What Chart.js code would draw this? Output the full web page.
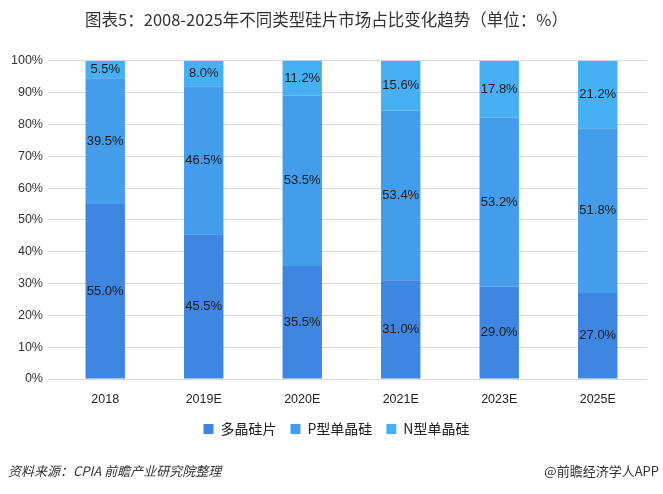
<!DOCTYPE html>
<html><head><meta charset="utf-8">
<script src="https://cdn.jsdelivr.net/npm/chart.js@4/dist/chart.umd.min.js"></script>
<style>
html,body{margin:0;padding:0;background:#fff;}
#wrap{position:relative;width:663px;height:494px;}
canvas{position:absolute;left:0;top:0;}
.src{position:absolute;left:8px;top:461px;font:italic 13px "Noto Sans CJK SC","Microsoft YaHei",sans-serif;color:#333;}
.app{position:absolute;right:4px;top:461px;font:13px "Noto Sans CJK SC",sans-serif;color:#333;}
</style></head><body>
<div id="wrap"><canvas id="c" width="663" height="494"></canvas>
<div class="src">资料来源：CPIA 前瞻产业研究院整理</div>
<div class="app">@前瞻经济学人APP</div></div>
<script>
const categories = ['2018','2019E','2020E','2021E','2023E','2025E'];
const seriesNames = ['多晶硅片','P型单晶硅','N型单晶硅'];
const polySi = [55.0,45.5,35.5,31.0,29.0,27.0];
const pMono = [39.5,46.5,53.5,53.4,53.2,51.8];
const nMono = [5.5,8.0,11.2,15.6,17.8,21.2];
const yTicks = [0,10,20,30,40,50,60,70,80,90,100];
const colors = ['#3E86DF','#439DEA','#47B0F3'];

const labelPlugin = {
  id:'segLabels',
  afterLayout(chart){
    const lg = chart.legend;
    if(lg){lg.left+=10;lg.right+=10;lg.top-=4;lg.bottom-=4;}
  },
  afterDatasetsDraw(chart){
    const ctx = chart.ctx;
    ctx.save();
    ctx.font = '13px "Liberation Sans", Arial, sans-serif';
    ctx.fillStyle = '#1a1a1a';
    ctx.textAlign='center'; ctx.textBaseline='middle';
    chart.data.datasets.forEach((ds,i)=>{
      chart.getDatasetMeta(i).data.forEach((bar,j)=>{
        const y = (bar.y + bar.base)/2;
        ctx.fillText(ds.data[j].toFixed(1)+'%', bar.x, y);
      });
    });
    ctx.restore();
  }
};

new Chart(document.getElementById('c'),{
  type:'bar',
  data:{labels:categories,datasets:[
    {label:seriesNames[0],data:polySi,backgroundColor:colors[0]},
    {label:seriesNames[1],data:pMono,backgroundColor:colors[1]},
    {label:seriesNames[2],data:nMono,backgroundColor:colors[2]}
  ]},
  options:{
    responsive:false,animation:false,
    layout:{padding:{left:6,right:16,top:0,bottom:44}},
    datasets:{bar:{categoryPercentage:1,barPercentage:0.4}},
    scales:{
      x:{stacked:true,grid:{display:false},border:{display:false},
         ticks:{color:'#222',font:{size:12.5,family:'"Liberation Sans", Arial, sans-serif'},padding:5}},
      y:{stacked:true,min:0,max:100,
         afterBuildTicks(ax){ax.ticks=yTicks.map(v=>({value:v}));},
         grid:{color:'#d9d9d9',lineWidth:1,drawTicks:true,tickLength:8,tickColor:'#d9d9d9'},border:{display:false},
         ticks:{color:'#333',font:{size:12.5,family:'"Liberation Sans", Arial, sans-serif'},padding:5,callback:v=>v+'%'}}
    },
    plugins:{
      title:{display:true,text:'图表5：2008-2025年不同类型硅片市场占比变化趋势（单位：%）',
        color:'#333',font:{size:16.5,weight:'normal',family:'"Noto Sans CJK SC", sans-serif'},padding:{top:10,bottom:31}},
      legend:{position:'bottom',labels:{boxWidth:10,boxHeight:10,color:'#222',
        font:{size:14,family:'"Noto Sans CJK SC", sans-serif'},padding:14}},
      tooltip:{enabled:false}
    }
  },
  plugins:[labelPlugin]
});
</script></body></html>
